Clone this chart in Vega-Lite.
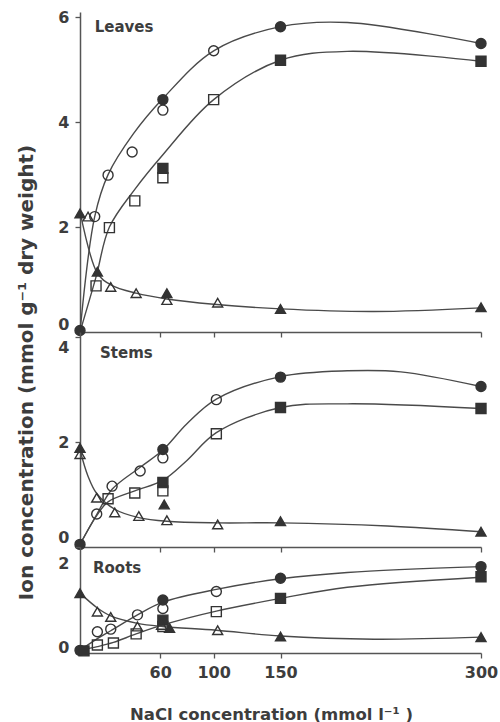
{
  "$schema": "https://vega.github.io/schema/vega-lite/v6.json",
  "padding": {"left": 15, "top": 9, "right": 0, "bottom": 0},
  "background": "white",
  "bounds": "flush",
  "spacing": 0,
  "resolve": {"scale": {"x": "independent", "y": "independent"}},
  "config": {
    "view": {"stroke": null},
    "font": "DejaVu Sans",
    "axis": {
      "labelFont": "DejaVu Sans", "labelFontSize": 16, "labelFontWeight": "bold", "labelColor": "#3d3d3d",
      "domainColor": "#555555", "domainWidth": 1.5, "tickColor": "#555555", "tickWidth": 1.3, "tickSize": 5,
      "grid": false, "labelOverlap": false, "titleFont": "DejaVu Sans", "titleFontWeight": "bold", "titleColor": "#3d3d3d"
    }
  },
  "datasets": {
    "pts": [
      {"organ": "Leaves", "ion": "Na", "kind": "filled", "x": 0, "y": 0.03},
      {"organ": "Leaves", "ion": "Na", "kind": "filled", "x": 62, "y": 4.43},
      {"organ": "Leaves", "ion": "Na", "kind": "filled", "x": 150, "y": 5.82},
      {"organ": "Leaves", "ion": "Na", "kind": "filled", "x": 300, "y": 5.5},
      {"organ": "Leaves", "ion": "Na", "kind": "open", "x": 11, "y": 2.2},
      {"organ": "Leaves", "ion": "Na", "kind": "open", "x": 21, "y": 2.99},
      {"organ": "Leaves", "ion": "Na", "kind": "open", "x": 39, "y": 3.43},
      {"organ": "Leaves", "ion": "Na", "kind": "open", "x": 62, "y": 4.23},
      {"organ": "Leaves", "ion": "Na", "kind": "open", "x": 100, "y": 5.36},
      {"organ": "Leaves", "ion": "Cl", "kind": "filled", "x": 62, "y": 3.12},
      {"organ": "Leaves", "ion": "Cl", "kind": "filled", "x": 150, "y": 5.18},
      {"organ": "Leaves", "ion": "Cl", "kind": "filled", "x": 300, "y": 5.16},
      {"organ": "Leaves", "ion": "Cl", "kind": "open", "x": 12, "y": 0.88},
      {"organ": "Leaves", "ion": "Cl", "kind": "open", "x": 22, "y": 1.99},
      {"organ": "Leaves", "ion": "Cl", "kind": "open", "x": 41, "y": 2.5},
      {"organ": "Leaves", "ion": "Cl", "kind": "open", "x": 62, "y": 2.94},
      {"organ": "Leaves", "ion": "Cl", "kind": "open", "x": 100, "y": 4.43},
      {"organ": "Leaves", "ion": "K", "kind": "filled", "x": 0, "y": 2.26},
      {"organ": "Leaves", "ion": "K", "kind": "filled", "x": 13, "y": 1.15},
      {"organ": "Leaves", "ion": "K", "kind": "filled", "x": 65, "y": 0.74},
      {"organ": "Leaves", "ion": "K", "kind": "filled", "x": 150, "y": 0.44},
      {"organ": "Leaves", "ion": "K", "kind": "filled", "x": 300, "y": 0.47},
      {"organ": "Leaves", "ion": "K", "kind": "open", "x": 6, "y": 2.2},
      {"organ": "Leaves", "ion": "K", "kind": "open", "x": 23, "y": 0.86},
      {"organ": "Leaves", "ion": "K", "kind": "open", "x": 42, "y": 0.74},
      {"organ": "Leaves", "ion": "K", "kind": "open", "x": 65, "y": 0.61},
      {"organ": "Leaves", "ion": "K", "kind": "open", "x": 103, "y": 0.56},

      {"organ": "Stems", "ion": "Na", "kind": "filled", "x": 0, "y": 0.05},
      {"organ": "Stems", "ion": "Na", "kind": "filled", "x": 62, "y": 1.86},
      {"organ": "Stems", "ion": "Na", "kind": "filled", "x": 150, "y": 3.24},
      {"organ": "Stems", "ion": "Na", "kind": "filled", "x": 300, "y": 3.06},
      {"organ": "Stems", "ion": "Na", "kind": "open", "x": 12.5, "y": 0.63},
      {"organ": "Stems", "ion": "Na", "kind": "open", "x": 24, "y": 1.16},
      {"organ": "Stems", "ion": "Na", "kind": "open", "x": 45, "y": 1.45},
      {"organ": "Stems", "ion": "Na", "kind": "open", "x": 62, "y": 1.7},
      {"organ": "Stems", "ion": "Na", "kind": "open", "x": 102, "y": 2.81},
      {"organ": "Stems", "ion": "Cl", "kind": "filled", "x": 62, "y": 1.23},
      {"organ": "Stems", "ion": "Cl", "kind": "filled", "x": 150, "y": 2.66},
      {"organ": "Stems", "ion": "Cl", "kind": "filled", "x": 300, "y": 2.64},
      {"organ": "Stems", "ion": "Cl", "kind": "open", "x": 21, "y": 0.92},
      {"organ": "Stems", "ion": "Cl", "kind": "open", "x": 41, "y": 1.03},
      {"organ": "Stems", "ion": "Cl", "kind": "open", "x": 62, "y": 1.07},
      {"organ": "Stems", "ion": "Cl", "kind": "open", "x": 102, "y": 2.16},
      {"organ": "Stems", "ion": "K", "kind": "filled", "x": 0, "y": 1.89},
      {"organ": "Stems", "ion": "K", "kind": "filled", "x": 63, "y": 0.81},
      {"organ": "Stems", "ion": "K", "kind": "filled", "x": 150, "y": 0.49},
      {"organ": "Stems", "ion": "K", "kind": "filled", "x": 300, "y": 0.29},
      {"organ": "Stems", "ion": "K", "kind": "open", "x": 0, "y": 1.77},
      {"organ": "Stems", "ion": "K", "kind": "open", "x": 12.5, "y": 0.94},
      {"organ": "Stems", "ion": "K", "kind": "open", "x": 26, "y": 0.66},
      {"organ": "Stems", "ion": "K", "kind": "open", "x": 44, "y": 0.59},
      {"organ": "Stems", "ion": "K", "kind": "open", "x": 65, "y": 0.51},
      {"organ": "Stems", "ion": "K", "kind": "open", "x": 103, "y": 0.43},

      {"organ": "Roots", "ion": "Na", "kind": "filled", "x": 0, "y": 0.05},
      {"organ": "Roots", "ion": "Na", "kind": "filled", "x": 62, "y": 1.0},
      {"organ": "Roots", "ion": "Na", "kind": "filled", "x": 150, "y": 1.41},
      {"organ": "Roots", "ion": "Na", "kind": "filled", "x": 300, "y": 1.63},
      {"organ": "Roots", "ion": "Na", "kind": "open", "x": 13, "y": 0.4},
      {"organ": "Roots", "ion": "Na", "kind": "open", "x": 23, "y": 0.45},
      {"organ": "Roots", "ion": "Na", "kind": "open", "x": 43, "y": 0.72},
      {"organ": "Roots", "ion": "Na", "kind": "open", "x": 62, "y": 0.84},
      {"organ": "Roots", "ion": "Na", "kind": "open", "x": 102, "y": 1.16},
      {"organ": "Roots", "ion": "Cl", "kind": "filled", "x": 3, "y": 0.04},
      {"organ": "Roots", "ion": "Cl", "kind": "filled", "x": 62, "y": 0.62},
      {"organ": "Roots", "ion": "Cl", "kind": "filled", "x": 150, "y": 1.03},
      {"organ": "Roots", "ion": "Cl", "kind": "filled", "x": 300, "y": 1.44},
      {"organ": "Roots", "ion": "Cl", "kind": "open", "x": 13, "y": 0.15},
      {"organ": "Roots", "ion": "Cl", "kind": "open", "x": 25, "y": 0.19},
      {"organ": "Roots", "ion": "Cl", "kind": "open", "x": 42, "y": 0.36},
      {"organ": "Roots", "ion": "Cl", "kind": "open", "x": 62, "y": 0.5},
      {"organ": "Roots", "ion": "Cl", "kind": "open", "x": 102, "y": 0.78},
      {"organ": "Roots", "ion": "K", "kind": "filled", "x": 0, "y": 1.13},
      {"organ": "Roots", "ion": "K", "kind": "filled", "x": 67, "y": 0.47},
      {"organ": "Roots", "ion": "K", "kind": "filled", "x": 150, "y": 0.31},
      {"organ": "Roots", "ion": "K", "kind": "filled", "x": 300, "y": 0.3},
      {"organ": "Roots", "ion": "K", "kind": "open", "x": 13, "y": 0.78},
      {"organ": "Roots", "ion": "K", "kind": "open", "x": 23, "y": 0.68},
      {"organ": "Roots", "ion": "K", "kind": "open", "x": 43, "y": 0.5},
      {"organ": "Roots", "ion": "K", "kind": "open", "x": 61, "y": 0.53},
      {"organ": "Roots", "ion": "K", "kind": "open", "x": 103, "y": 0.43}
    ],
    "curves": [
      {"organ": "Leaves", "ion": "Na", "x": 0, "y": 0},
      {"organ": "Leaves", "ion": "Na", "x": 11, "y": 2.2},
      {"organ": "Leaves", "ion": "Na", "x": 21, "y": 3.0},
      {"organ": "Leaves", "ion": "Na", "x": 40, "y": 3.78},
      {"organ": "Leaves", "ion": "Na", "x": 62, "y": 4.45},
      {"organ": "Leaves", "ion": "Na", "x": 100, "y": 5.36},
      {"organ": "Leaves", "ion": "Na", "x": 150, "y": 5.82},
      {"organ": "Leaves", "ion": "Na", "x": 200, "y": 5.9},
      {"organ": "Leaves", "ion": "Na", "x": 300, "y": 5.5},
      {"organ": "Leaves", "ion": "Cl", "x": 0, "y": 0},
      {"organ": "Leaves", "ion": "Cl", "x": 12, "y": 1.05},
      {"organ": "Leaves", "ion": "Cl", "x": 22, "y": 2.0},
      {"organ": "Leaves", "ion": "Cl", "x": 41, "y": 2.72},
      {"organ": "Leaves", "ion": "Cl", "x": 62, "y": 3.38},
      {"organ": "Leaves", "ion": "Cl", "x": 100, "y": 4.43},
      {"organ": "Leaves", "ion": "Cl", "x": 150, "y": 5.18},
      {"organ": "Leaves", "ion": "Cl", "x": 200, "y": 5.35},
      {"organ": "Leaves", "ion": "Cl", "x": 300, "y": 5.16},
      {"organ": "Leaves", "ion": "K", "x": 0, "y": 2.3},
      {"organ": "Leaves", "ion": "K", "x": 13, "y": 1.12},
      {"organ": "Leaves", "ion": "K", "x": 23, "y": 0.9},
      {"organ": "Leaves", "ion": "K", "x": 42, "y": 0.74},
      {"organ": "Leaves", "ion": "K", "x": 65, "y": 0.63},
      {"organ": "Leaves", "ion": "K", "x": 100, "y": 0.53},
      {"organ": "Leaves", "ion": "K", "x": 150, "y": 0.44},
      {"organ": "Leaves", "ion": "K", "x": 220, "y": 0.39},
      {"organ": "Leaves", "ion": "K", "x": 300, "y": 0.46},

      {"organ": "Stems", "ion": "Na", "x": 0, "y": 0.05},
      {"organ": "Stems", "ion": "Na", "x": 12.5, "y": 0.62},
      {"organ": "Stems", "ion": "Na", "x": 24, "y": 1.1},
      {"organ": "Stems", "ion": "Na", "x": 45, "y": 1.52},
      {"organ": "Stems", "ion": "Na", "x": 62, "y": 1.85},
      {"organ": "Stems", "ion": "Na", "x": 80, "y": 2.35},
      {"organ": "Stems", "ion": "Na", "x": 102, "y": 2.82},
      {"organ": "Stems", "ion": "Na", "x": 150, "y": 3.25},
      {"organ": "Stems", "ion": "Na", "x": 200, "y": 3.36},
      {"organ": "Stems", "ion": "Na", "x": 240, "y": 3.34},
      {"organ": "Stems", "ion": "Na", "x": 300, "y": 3.06},
      {"organ": "Stems", "ion": "Cl", "x": 0, "y": 0.05},
      {"organ": "Stems", "ion": "Cl", "x": 12.5, "y": 0.6},
      {"organ": "Stems", "ion": "Cl", "x": 21, "y": 0.86},
      {"organ": "Stems", "ion": "Cl", "x": 41, "y": 1.07},
      {"organ": "Stems", "ion": "Cl", "x": 62, "y": 1.27},
      {"organ": "Stems", "ion": "Cl", "x": 80, "y": 1.65},
      {"organ": "Stems", "ion": "Cl", "x": 102, "y": 2.18},
      {"organ": "Stems", "ion": "Cl", "x": 150, "y": 2.66},
      {"organ": "Stems", "ion": "Cl", "x": 200, "y": 2.73},
      {"organ": "Stems", "ion": "Cl", "x": 300, "y": 2.64},
      {"organ": "Stems", "ion": "K", "x": 0, "y": 1.85},
      {"organ": "Stems", "ion": "K", "x": 6, "y": 1.35},
      {"organ": "Stems", "ion": "K", "x": 12.5, "y": 1.02},
      {"organ": "Stems", "ion": "K", "x": 26, "y": 0.72},
      {"organ": "Stems", "ion": "K", "x": 44, "y": 0.56},
      {"organ": "Stems", "ion": "K", "x": 65, "y": 0.49},
      {"organ": "Stems", "ion": "K", "x": 103, "y": 0.46},
      {"organ": "Stems", "ion": "K", "x": 150, "y": 0.46},
      {"organ": "Stems", "ion": "K", "x": 230, "y": 0.4},
      {"organ": "Stems", "ion": "K", "x": 300, "y": 0.29},

      {"organ": "Roots", "ion": "Na", "x": 0, "y": 0.05},
      {"organ": "Roots", "ion": "Na", "x": 13, "y": 0.27},
      {"organ": "Roots", "ion": "Na", "x": 23, "y": 0.42},
      {"organ": "Roots", "ion": "Na", "x": 43, "y": 0.72},
      {"organ": "Roots", "ion": "Na", "x": 62, "y": 0.96},
      {"organ": "Roots", "ion": "Na", "x": 102, "y": 1.2},
      {"organ": "Roots", "ion": "Na", "x": 150, "y": 1.4},
      {"organ": "Roots", "ion": "Na", "x": 200, "y": 1.52},
      {"organ": "Roots", "ion": "Na", "x": 300, "y": 1.63},
      {"organ": "Roots", "ion": "Cl", "x": 0, "y": 0.05},
      {"organ": "Roots", "ion": "Cl", "x": 13, "y": 0.12},
      {"organ": "Roots", "ion": "Cl", "x": 25, "y": 0.2},
      {"organ": "Roots", "ion": "Cl", "x": 42, "y": 0.36},
      {"organ": "Roots", "ion": "Cl", "x": 62, "y": 0.53},
      {"organ": "Roots", "ion": "Cl", "x": 102, "y": 0.79},
      {"organ": "Roots", "ion": "Cl", "x": 150, "y": 1.03},
      {"organ": "Roots", "ion": "Cl", "x": 200, "y": 1.24},
      {"organ": "Roots", "ion": "Cl", "x": 300, "y": 1.43},
      {"organ": "Roots", "ion": "K", "x": 0, "y": 1.13},
      {"organ": "Roots", "ion": "K", "x": 13, "y": 0.85},
      {"organ": "Roots", "ion": "K", "x": 23, "y": 0.7},
      {"organ": "Roots", "ion": "K", "x": 43, "y": 0.56},
      {"organ": "Roots", "ion": "K", "x": 62, "y": 0.5},
      {"organ": "Roots", "ion": "K", "x": 102, "y": 0.43},
      {"organ": "Roots", "ion": "K", "x": 150, "y": 0.32},
      {"organ": "Roots", "ion": "K", "x": 220, "y": 0.26},
      {"organ": "Roots", "ion": "K", "x": 300, "y": 0.3}
    ],
    "labels": [
      {"organ": "Leaves", "label": "Leaves", "x": 11, "y": 5.71},
      {"organ": "Stems", "label": "Stems", "x": 15, "y": 3.6},
      {"organ": "Roots", "label": "Roots", "x": 9.7, "y": 1.51}
    ]
  },
  "vconcat": [
    {
      "width": 401, "height": 320,
      "encoding": {
        "x": {"field": "x", "type": "quantitative", "scale": {"domain": [0, 300], "nice": false}, "axis": {"values": [60, 100, 150, 300], "labels": false, "title": null}},
        "y": {"field": "y", "type": "quantitative", "scale": {"domain": [0, 6.1], "nice": false}, "axis": {"values": [0, 2, 4, 6], "title": null, "labelPadding": 6, "labelOffset": {"condition": {"test": "datum.value === 0", "value": -8}, "value": 0}}}
      },
      "layer": [
        {"data": {"name": "curves"}, "transform": [{"filter": "datum.organ === 'Leaves'"}], "mark": {"type": "line", "interpolate": "catmull-rom", "color": "#4a4a4a", "strokeWidth": 1.4}, "encoding": {"detail": {"field": "ion"}}},
        {"data": {"name": "pts"}, "transform": [{"filter": "datum.organ === 'Leaves'"}], "mark": {"type": "point", "filled": true, "stroke": "#333333", "strokeWidth": 1.4, "size": 100, "opacity": 1},
         "encoding": {
           "shape": {"field": "ion", "scale": {"domain": ["Na", "Cl", "K"], "range": ["circle", "square", "triangle-up"]}, "legend": null},
           "fill": {"field": "kind", "scale": {"domain": ["filled", "open"], "range": ["#333333", "transparent"]}, "legend": null}
         }},
        {"data": {"name": "labels"}, "transform": [{"filter": "datum.organ === 'Leaves'"}], "mark": {"type": "text", "align": "left", "baseline": "alphabetic", "fontSize": 15, "fontWeight": "bold", "color": "#3d3d3d"}, "encoding": {"text": {"field": "label"}}}
      ]
    },
    {
      "width": 401, "height": 215,
      "encoding": {
        "x": {"field": "x", "type": "quantitative", "scale": {"domain": [0, 300], "nice": false}, "axis": {"values": [60, 100, 150, 300], "labels": false, "title": null}},
        "y": {"field": "y", "type": "quantitative", "scale": {"domain": [0, 4.1], "nice": false}, "axis": {"values": [0, 2, 4], "labelPadding": 6, "labelOffset": {"condition": [{"test": "datum.value === 0", "value": -10}, {"test": "datum.value === 4", "value": 10}], "value": 0}, "title": "Ion concentration (mmol g⁻¹  dry  weight)", "titleFontSize": 20, "titleX": -44, "titleY": 40}}
      },
      "layer": [
        {"data": {"name": "curves"}, "transform": [{"filter": "datum.organ === 'Stems'"}], "mark": {"type": "line", "interpolate": "catmull-rom", "color": "#4a4a4a", "strokeWidth": 1.4}, "encoding": {"detail": {"field": "ion"}}},
        {"data": {"name": "pts"}, "transform": [{"filter": "datum.organ === 'Stems'"}], "mark": {"type": "point", "filled": true, "stroke": "#333333", "strokeWidth": 1.4, "size": 100, "opacity": 1},
         "encoding": {
           "shape": {"field": "ion", "scale": {"domain": ["Na", "Cl", "K"], "range": ["circle", "square", "triangle-up"]}, "legend": null},
           "fill": {"field": "kind", "scale": {"domain": ["filled", "open"], "range": ["#333333", "transparent"]}, "legend": null}
         }},
        {"data": {"name": "labels"}, "transform": [{"filter": "datum.organ === 'Stems'"}], "mark": {"type": "text", "align": "left", "baseline": "alphabetic", "fontSize": 15, "fontWeight": "bold", "color": "#3d3d3d"}, "encoding": {"text": {"field": "label"}}}
      ]
    },
    {
      "width": 401, "height": 106,
      "encoding": {
        "x": {"field": "x", "type": "quantitative", "scale": {"domain": [0, 300], "nice": false}, "axis": {"values": [60, 100, 150, 300], "labelFlush": false, "labelPadding": 6, "title": "NaCl concentration (mmol l⁻¹ )", "titleFontSize": 16.5, "titleX": 191, "titleY": 66, "titleBaseline": "alphabetic"}},
        "y": {"field": "y", "type": "quantitative", "scale": {"domain": [0, 2], "nice": false}, "axis": {"values": [0, 2], "title": null, "labelPadding": 6, "labelOffset": {"condition": {"test": "datum.value === 0", "value": -6}, "value": 16}}}
      },
      "layer": [
        {"data": {"name": "curves"}, "transform": [{"filter": "datum.organ === 'Roots'"}], "mark": {"type": "line", "interpolate": "catmull-rom", "color": "#4a4a4a", "strokeWidth": 1.4}, "encoding": {"detail": {"field": "ion"}}},
        {"data": {"name": "pts"}, "transform": [{"filter": "datum.organ === 'Roots'"}], "mark": {"type": "point", "filled": true, "stroke": "#333333", "strokeWidth": 1.4, "size": 100, "opacity": 1},
         "encoding": {
           "shape": {"field": "ion", "scale": {"domain": ["Na", "Cl", "K"], "range": ["circle", "square", "triangle-up"]}, "legend": null},
           "fill": {"field": "kind", "scale": {"domain": ["filled", "open"], "range": ["#333333", "transparent"]}, "legend": null}
         }},
        {"data": {"name": "labels"}, "transform": [{"filter": "datum.organ === 'Roots'"}], "mark": {"type": "text", "align": "left", "baseline": "alphabetic", "fontSize": 15, "fontWeight": "bold", "color": "#3d3d3d"}, "encoding": {"text": {"field": "label"}}}
      ]
    }
  ]
}
